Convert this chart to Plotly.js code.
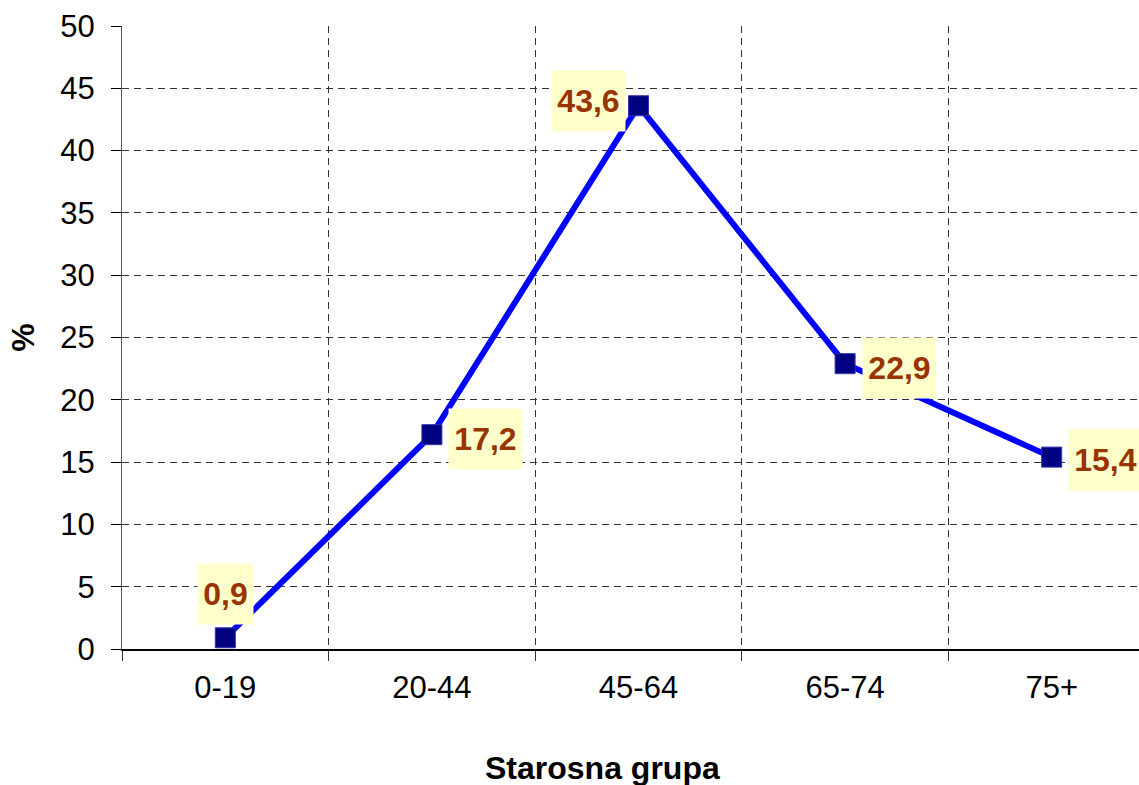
<!DOCTYPE html>
<html>
<head>
<meta charset="utf-8">
<script src="https://cdn.plot.ly/plotly-3.0.1.min.js"></script>
<style>
html,body{margin:0;padding:0;overflow:hidden;background:#fff;}
#chart{width:1160px;height:785px;}
</style>
</head>
<body>
<div id="chart"></div>
<script>
var categories = ["0-19", "20-44", "45-64", "65-74", "75+"];
var values = [0.9, 17.2, 43.6, 22.9, 15.4];
var labels = ["0,9", "17,2", "43,6", "22,9", "15,4"];
var labelShiftX = [0, 54, -50, 54, 54];
var labelShiftY = [44, -4, 5, -4, -3];
var xTitle = "Starosna grupa";
var yTitle = "%";

var FONT = "Liberation Sans, Arial, sans-serif";

var trace = {
  x: categories,
  y: values,
  type: "scatter",
  mode: "lines+markers",
  line: {color: "#0000FF", width: 6},
  marker: {symbol: "square", size: 20, color: "#000080", line: {color: "#3333AA", width: 1}},
  hoverinfo: "skip"
};

var annotations = categories.map(function(c, i){
  return {
    x: c, y: values[i], xref: "x", yref: "y",
    text: labels[i], showarrow: false,
    xanchor: "center", yanchor: "middle",
    xshift: labelShiftX[i], yshift: labelShiftY[i],
    bgcolor: "#FFFFCC", borderpad: 1,
    width: labels[i].length === 3 ? 53 : 71, height: 58,
    font: {family: FONT, size: 32, color: "#993300", weight: "bold"}
  };
});
annotations.push({
  xref: "paper", yref: "paper", x: 0.4656, y: -0.191,
  xanchor: "center", yanchor: "middle", showarrow: false,
  text: "<b>" + xTitle + "</b>",
  font: {family: FONT, size: 32, color: "#000"}
});

var layout = {
  width: 1160, height: 785,
  margin: {l: 122, r: 5, t: 26, b: 136},
  paper_bgcolor: "#ffffff",
  plot_bgcolor: "#ffffff",
  showlegend: false,
  font: {family: FONT, color: "#000"},
  xaxis: {
    type: "category",
    range: [-0.5, 4.5],
    tickson: "boundaries",
    ticks: "outside", ticklen: 10, tickcolor: "#333", tickwidth: 1,
    showgrid: true, gridcolor: "#333", gridwidth: 1, griddash: "7px,5px",
    showline: true, linecolor: "#000", linewidth: 2,
    tickfont: {family: FONT, size: 31, color: "#000"},
    ticklabelstandoff: 10,
    zeroline: false
  },
  yaxis: {
    range: [0, 50], dtick: 5, tick0: 0,
    ticks: "outside", ticklen: 10, tickcolor: "#000", tickwidth: 1,
    showgrid: true, gridcolor: "#333", gridwidth: 1, griddash: "7px,5px",
    showline: true, linecolor: "#555", linewidth: 1,
    tickfont: {family: FONT, size: 31, color: "#000"},
    ticklabelstandoff: 10,
    zeroline: false,
    title: {text: "<b>" + yTitle + "</b>", font: {family: FONT, size: 32, color: "#000"}, standoff: 16}
  },
  annotations: annotations
};

Plotly.newPlot("chart", [trace], layout, {staticPlot: true, displayModeBar: false});
</script>
</body>
</html>
